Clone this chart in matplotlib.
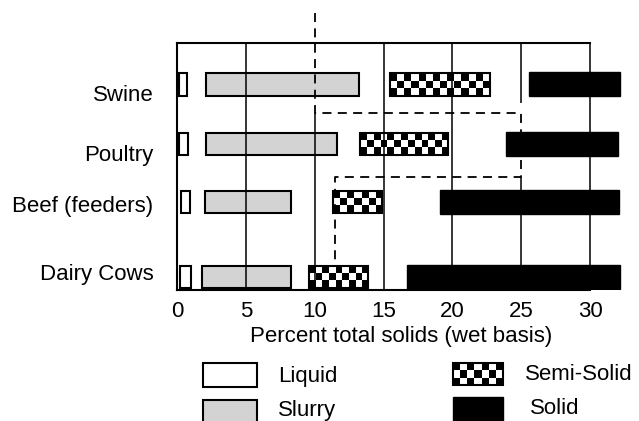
import numpy as np
import matplotlib
matplotlib.use("Agg")
import matplotlib.pyplot as plt
from matplotlib.patches import Rectangle

plt.rcParams['font.family'] = ['Liberation Sans', 'DejaVu Sans']
plt.rcParams['font.size'] = 16

# Data: ranges of percent total solids for each manure state
categories = ['Swine', 'Poultry', 'Beef (feeders)', 'Dairy Cows']
row_pos = [3.43, 2.44, 1.47, 0.22]
label_pos = [3.28, 2.28, 1.43, 0.30]

liquid_lo = [0.15, 0.15, 0.3, 0.2]
liquid_hi = [0.7, 0.8, 0.95, 1.0]
slurry_lo = [2.1, 2.1, 2.0, 1.8]
slurry_hi = [13.2, 11.6, 8.3, 8.3]
semi_lo = [15.5, 13.3, 11.3, 9.6]
semi_hi = [22.7, 19.7, 14.9, 13.9]
solid_lo = [25.6, 23.9, 19.1, 16.7]
solid_hi = [32.2, 32.0, 32.1, 32.2]

xticks = [0, 5, 10, 15, 20, 25, 30]

# vertical grid segments (x, from, to)
grid_x = [5, 10, 15, 20, 25, 25, 30]
grid_lo = [0, 0, 0, 0, 0, 3.12, 0]
grid_hi = [4.12, 2.95, 4.12, 4.12, 1.88, 4.12, 4.12]

# dashed boundary (handling-method limits)
bound_x = [10, 10, 25, 25, 11.5, 11.5]
bound_y = [4.62, 2.95, 2.95, 1.88, 1.88, 0.40]

fig = plt.figure(figsize=(6.39, 4.21), dpi=100)
ax = fig.add_axes([0.277, 0.311, 0.7003, 0.5867])


def ranges(lo, hi):
    return np.array(hi) - np.array(lo)


bh = 0.37
ax.barh(row_pos, ranges(liquid_lo, liquid_hi), left=liquid_lo, height=bh,
        color='white', edgecolor='black', linewidth=1.5, zorder=2)
ax.barh(row_pos, ranges(slurry_lo, slurry_hi), left=slurry_lo, height=bh,
        color='#d3d3d3', edgecolor='black', linewidth=1.5, zorder=2)
semi = ax.barh(row_pos, ranges(semi_lo, semi_hi), left=semi_lo, height=bh,
               facecolor='none', edgecolor='black', linewidth=1.5, zorder=2.6)
ax.barh(row_pos, ranges(solid_lo, solid_hi), left=solid_lo, height=0.4,
        color='black', edgecolor='black', linewidth=1, zorder=2)


def checker(ncols, nrows):
    return (np.indices((nrows, ncols)).sum(axis=0) % 2).astype(float)


# checkerboard fill for the semi-solid bars
for p in semi.patches:
    x0, y0, w, h = p.get_x(), p.get_y(), p.get_width(), p.get_height()
    ncols = max(2, int(round(w * 2)))
    im = ax.imshow(checker(ncols, 3), extent=(x0, x0 + w, y0, y0 + h),
                   cmap='gray', vmin=0, vmax=1, aspect='auto',
                   interpolation='nearest', zorder=2.5)
    im.set_clip_path(p)

ax.vlines(grid_x, grid_lo, grid_hi, colors='black', linewidth=1.1, zorder=3)
ax.plot(bound_x, bound_y, color='black', linewidth=1.3,
        linestyle=(0, (5, 3.5)), zorder=4, clip_on=False)

ax.set_xlim(0, 32.5)
ax.set_ylim(0, 4.12)
ax.set_xticks(xticks)
ax.set_yticks(label_pos, categories)
ax.tick_params(axis='both', length=0)
ax.tick_params(axis='x', pad=8)
ax.tick_params(axis='y', pad=17)
ax.set_xlabel('Percent total solids (wet basis)', labelpad=3)

ax.spines['right'].set_visible(False)
ax.spines['top'].set_bounds(0, 30)
ax.spines['bottom'].set_bounds(0, 30)
for s in ['top', 'bottom', 'left']:
    ax.spines[s].set_linewidth(1.5)

# legend drawn in pixel space below the chart
lg = fig.add_axes([0, 0, 1, 1], facecolor='none')
lg.set_xlim(0, 639)
lg.set_ylim(421, 0)
lg.axis('off')

lg.add_patch(Rectangle((203, 363), 54, 24, facecolor='white',
                       edgecolor='black', linewidth=1.5))
lg.add_patch(Rectangle((203, 400), 54, 30, facecolor='#d3d3d3',
                       edgecolor='black', linewidth=1.5, clip_on=False))
leg_semi = Rectangle((453, 363), 50, 22, facecolor='none',
                     edgecolor='black', linewidth=1.5, zorder=3)
lg.add_patch(leg_semi)
im = lg.imshow(checker(7, 3), extent=(453, 503, 385, 363), cmap='gray',
               vmin=0, vmax=1, aspect='auto', interpolation='nearest',
               zorder=2)
im.set_clip_path(leg_semi)
lg.add_patch(Rectangle((453, 397), 50, 30, facecolor='black',
                       edgecolor='black', linewidth=1))

lg.text(278, 382, 'Liquid', va='baseline', ha='left')
lg.text(278, 416, 'Slurry', va='baseline', ha='left')
lg.text(525, 380, 'Semi-Solid', va='baseline', ha='left')
lg.text(530, 414, 'Solid', va='baseline', ha='left')

fig.savefig('out.png', dpi=100)
